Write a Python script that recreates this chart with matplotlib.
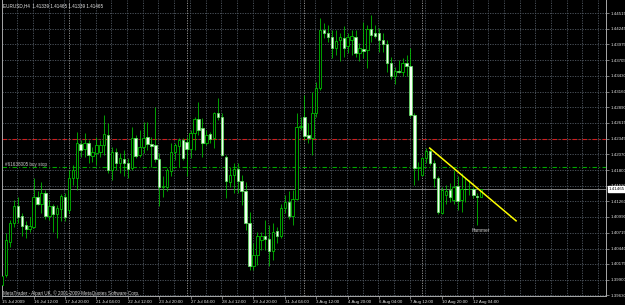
import matplotlib
matplotlib.use("Agg")
import matplotlib.pyplot as plt
import matplotlib.transforms as mtransforms
import numpy as np

plt.rcParams['font.family'] = ['Liberation Sans', 'DejaVu Sans']

# EURUSD H4 candles, 15 Jul 2009 -> 12 Aug 2009
opens = [1.3981, 1.3998, 1.4056, 1.4089, 1.4118, 1.4100, 1.4085, 1.4077, 1.4082, 1.4133,
         1.4122, 1.4141, 1.4100, 1.4118, 1.4104, 1.4112, 1.4134, 1.4110, 1.4166, 1.4166,
         1.4225, 1.4216, 1.4226, 1.4204, 1.4209, 1.4212, 1.4223, 1.4241, 1.4180, 1.4212,
         1.4192, 1.4199, 1.4192, 1.4183, 1.4236, 1.4206, 1.4220, 1.4237, 1.4225, 1.4223,
         1.4199, 1.4151, 1.4151, 1.4178, 1.4212, 1.4222, 1.4232, 1.4229, 1.4216, 1.4244,
         1.4268, 1.4252, 1.4227, 1.4242, 1.4235, 1.4278, 1.4271, 1.4203, 1.4160, 1.4171,
         1.4181, 1.4161, 1.4144, 1.4088, 1.4013, 1.4033, 1.4059, 1.4066, 1.4060, 1.4039,
         1.4075, 1.4065, 1.4114, 1.4125, 1.4101, 1.4129, 1.4255, 1.4272, 1.4241, 1.4235,
         1.4278, 1.4322, 1.4423, 1.4418, 1.4411, 1.4391, 1.4406, 1.4408, 1.4394, 1.4406,
         1.4411, 1.4383, 1.4390, 1.4388, 1.4424, 1.4417, 1.4417, 1.4405, 1.4398, 1.4366,
         1.4342, 1.4352, 1.4350, 1.4365, 1.4361, 1.4275, 1.4183, 1.4171, 1.4200, 1.4213,
         1.4193, 1.4166, 1.4106, 1.4137, 1.4145, 1.4128, 1.4152, 1.4128, 1.4148, 1.4147,
         1.4148, 1.4135, 1.41339]
highs = [1.4000, 1.4071, 1.4094, 1.4128, 1.4134, 1.4106, 1.4091, 1.4099, 1.4166, 1.4143,
         1.4160, 1.4145, 1.4128, 1.4122, 1.4119, 1.4139, 1.4140, 1.4180, 1.4189, 1.4246,
         1.4232, 1.4244, 1.4232, 1.4220, 1.4238, 1.4232, 1.4275, 1.4261, 1.4220, 1.4218,
         1.4209, 1.4215, 1.4200, 1.4255, 1.4241, 1.4249, 1.4264, 1.4264, 1.4238, 1.4290,
         1.4209, 1.4169, 1.4183, 1.4226, 1.4226, 1.4235, 1.4235, 1.4238, 1.4249, 1.4272,
         1.4298, 1.4270, 1.4249, 1.4246, 1.4281, 1.4304, 1.4278, 1.4206, 1.4186, 1.4192,
         1.4192, 1.4171, 1.4160, 1.4108, 1.4053, 1.4073, 1.4073, 1.4094, 1.4085, 1.4088,
         1.4082, 1.4122, 1.4137, 1.4143, 1.4145, 1.4278, 1.4272, 1.4310, 1.4261, 1.4316,
         1.4333, 1.4443, 1.4434, 1.4431, 1.4423, 1.4423, 1.4417, 1.4430, 1.4417, 1.4423,
         1.4423, 1.4400, 1.4437, 1.4431, 1.4449, 1.4431, 1.4426, 1.4417, 1.4405, 1.4376,
         1.4359, 1.4371, 1.4374, 1.4379, 1.4391, 1.4278, 1.4194, 1.4203, 1.4218, 1.4219,
         1.4197, 1.4169, 1.4151, 1.4154, 1.4157, 1.4180, 1.4169, 1.4174, 1.4166, 1.4163,
         1.4151, 1.4140, 1.41465]
lows = [1.3977, 1.3995, 1.4047, 1.4082, 1.4088, 1.4065, 1.4062, 1.4073, 1.4079, 1.4119,
        1.4105, 1.4096, 1.4094, 1.4073, 1.4062, 1.4091, 1.4092, 1.4105, 1.4154, 1.4145,
        1.4203, 1.4203, 1.4192, 1.4194, 1.4189, 1.4203, 1.4206, 1.4174, 1.4163, 1.4180,
        1.4174, 1.4169, 1.4166, 1.4180, 1.4200, 1.4203, 1.4209, 1.4215, 1.4186, 1.4194,
        1.4118, 1.4134, 1.4143, 1.4170, 1.4197, 1.4186, 1.4197, 1.4169, 1.4200, 1.4215,
        1.4241, 1.4203, 1.4223, 1.4226, 1.4218, 1.4267, 1.4204, 1.4131, 1.4151, 1.4140,
        1.4140, 1.4119, 1.4076, 1.4007, 1.4007, 1.4016, 1.4042, 1.4042, 1.4013, 1.4024,
        1.4053, 1.4062, 1.4105, 1.4096, 1.4085, 1.4128, 1.4249, 1.4232, 1.4226, 1.4206,
        1.4272, 1.4319, 1.4408, 1.4402, 1.4374, 1.4379, 1.4368, 1.4376, 1.4382, 1.4379,
        1.4376, 1.4368, 1.4374, 1.4356, 1.4402, 1.4408, 1.4385, 1.4385, 1.4350, 1.4337,
        1.4329, 1.4348, 1.4342, 1.4342, 1.4272, 1.4154, 1.4163, 1.4169, 1.4192, 1.4189,
        1.4151, 1.4104, 1.4104, 1.4122, 1.4125, 1.4122, 1.4111, 1.4108, 1.4125, 1.4137,
        1.4131, 1.4085, 1.41339]
closes = [1.3997, 1.4059, 1.4089, 1.4118, 1.4099, 1.4083, 1.4077, 1.4083, 1.4134, 1.4122,
          1.4140, 1.4100, 1.4118, 1.4104, 1.4114, 1.4135, 1.4099, 1.4166, 1.4180, 1.4226,
          1.4215, 1.4226, 1.4206, 1.4212, 1.4223, 1.4223, 1.4242, 1.4180, 1.4212, 1.4192,
          1.4200, 1.4192, 1.4181, 1.4235, 1.4204, 1.4220, 1.4235, 1.4225, 1.4222, 1.4199,
          1.4151, 1.4153, 1.4180, 1.4212, 1.4223, 1.4232, 1.4200, 1.4216, 1.4244, 1.4268,
          1.4249, 1.4227, 1.4241, 1.4234, 1.4278, 1.4271, 1.4206, 1.4161, 1.4171, 1.4181,
          1.4161, 1.4144, 1.4088, 1.4013, 1.4033, 1.4066, 1.4065, 1.4060, 1.4039, 1.4073,
          1.4065, 1.4114, 1.4125, 1.4101, 1.4129, 1.4255, 1.4256, 1.4239, 1.4235, 1.4278,
          1.4322, 1.4423, 1.4418, 1.4411, 1.4391, 1.4404, 1.4410, 1.4391, 1.4411, 1.4412,
          1.4382, 1.4391, 1.4387, 1.4424, 1.4414, 1.4413, 1.4405, 1.4398, 1.4366, 1.4342,
          1.4352, 1.4350, 1.4365, 1.4360, 1.4275, 1.4183, 1.4185, 1.4200, 1.4213, 1.4193,
          1.4167, 1.4108, 1.4145, 1.4143, 1.4134, 1.4151, 1.4127, 1.4148, 1.4147, 1.4148,
          1.4137, 1.4133, 1.41465]

date_labels = ['15 Jul 2009', '16 Jul 12:00', '17 Jul 20:00', '21 Jul 04:00', '22 Jul 12:00',
               '23 Jul 20:00', '27 Jul 04:00', '28 Jul 12:00', '29 Jul 20:00', '31 Jul 04:00',
               '3 Aug 12:00', '4 Aug 20:00', '6 Aug 04:00', '7 Aug 12:00', '10 Aug 20:00',
               '12 Aug 04:00']
price_ticks = [1.44515, 1.44245, 1.43975, 1.43705, 1.43430, 1.43160, 1.42890, 1.42615,
               1.42345, 1.42070, 1.41800, 1.41530, 1.41260, 1.40990, 1.40715, 1.40440,
               1.40175, 1.39900, 1.39630]
week_starts = [17, 47, 77, 107]

bid = 1.41465
stop_loss = 1.4234
buy_stop = 1.4185
trend_idx = [108.9, 130.9]
trend_price = [1.4218, 1.4092]

o = np.array(opens); h = np.array(highs); l = np.array(lows); c = np.array(closes)
x = np.arange(len(o))

fig = plt.figure(figsize=(6.25, 3.05), dpi=100, facecolor='black')
ax = fig.add_axes([2 / 625, 9 / 305, 604 / 625, 296 / 305], facecolor='black')
ax.set_xlim(-0.05, 153.8)
ax.set_ylim(1.39618, 1.44745)

# grid, weekly separators
grid_c = '#525a64'
for p in price_ticks:
    ax.axhline(p, color=grid_c, lw=0.6, ls=(0, (1.5, 1.5)), zorder=0)
for i in range(4, 156, 4):
    if i not in week_starts:
        ax.axvline(i - 0.2, color=grid_c, lw=0.6, ls=(0, (1.5, 1.5)), zorder=0)
for i in week_starts:
    ax.axvline(i, color='#a0a0a0', lw=0.6, ls=(0, (1.5, 1.5)), zorder=0)

# order / price lines
ax.axhline(stop_loss, color='#d02020', lw=0.8, ls=(0, (4, 2, 1, 2)), zorder=1)
ax.axhline(buy_stop, color='#00a800', lw=0.8, ls=(0, (4, 2, 1, 2)), zorder=1)
ax.axhline(bid, color='#808080', lw=0.7, zorder=1)

# candles
green = '#00cc00'
up = c >= o
ax.vlines(x, l, h, color=green, lw=0.55, zorder=2)
body_lo = np.minimum(o, c)
body_h = np.maximum(np.abs(c - o), 0.00004)
ax.bar(x[up], body_h[up], bottom=body_lo[up], width=0.62, color='black',
       edgecolor=green, linewidth=0.55, zorder=3)
ax.bar(x[~up], body_h[~up], bottom=body_lo[~up], width=0.62, color='#f4fff4',
       edgecolor='#60e060', linewidth=0.55, zorder=3)

# trendline + label
ax.plot(trend_idx, trend_price, color='#ffff00', lw=1.1, zorder=4)
ax.text(121.8, 1.40744, 'Hammer', color='#d0d0d0', fontsize=3.4,
        ha='center', va='center', zorder=5)
ax.text(0.6, buy_stop + 0.00003, '#61638005 buy stop', color='#c8c8c8', fontsize=3.3,
        ha='left', va='bottom', zorder=5)

# axes
for s in ['left', 'right', 'bottom']:
    ax.spines[s].set_color('#a8a8a8')
    ax.spines[s].set_linewidth(0.7)
ax.spines['top'].set_visible(False)

ax.yaxis.tick_right()
ax.set_yticks(price_ticks)
ax.set_yticklabels([f'{p:.5f}' for p in price_ticks])
ax.tick_params(axis='y', colors='#a8a8a8', labelcolor='#e0e0e0', length=2,
               width=0.5, pad=1, labelsize=3.2)
ax.set_xticks(x[::8])
ax.set_xticklabels(date_labels)
for lbl in ax.get_xticklabels():
    lbl.set_ha('left')
ax.tick_params(axis='x', colors='#a8a8a8', labelcolor='#e0e0e0', length=2,
               width=0.5, pad=0.8, labelsize=3.2)

trans = mtransforms.blended_transform_factory(ax.transAxes, ax.transData)
ax.text(1.004, bid, f'{bid:.5f}', transform=trans, color='black', fontsize=3.2,
        ha='left', va='center', zorder=10, clip_on=False,
        bbox=dict(boxstyle='square,pad=0.2', fc='white', ec='white'))

fig.text(2.7 / 625, 1 - 5.3 / 305, 'EURUSD,H4  1.41339 1.41465 1.41339 1.41465',
         color='#e8e8e8', fontsize=3.3, ha='left', va='center')
fig.text(2.7 / 625, 1 - 292.7 / 305,
         'MetaTrader - Alpari UK, \u00a9 2001-2009 MetaQuotes Software Corp.',
         color='#d8d8d8', fontsize=3.3, ha='left', va='center')

fig.savefig('out.png', dpi=100, facecolor='black')
